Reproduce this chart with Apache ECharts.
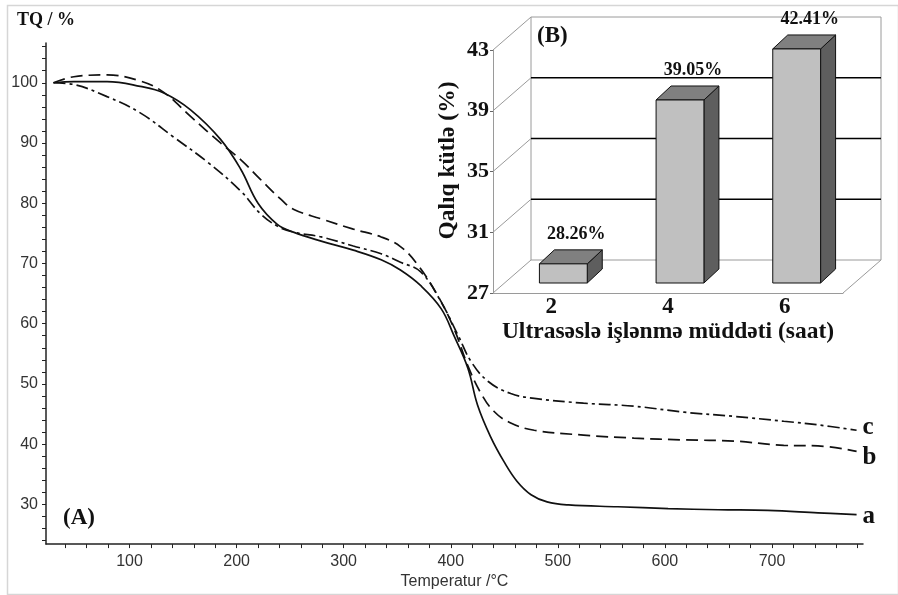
<!DOCTYPE html>
<html>
<head>
<meta charset="utf-8">
<script src="https://cdn.jsdelivr.net/npm/echarts@6.0.0/dist/echarts.min.js"></script>
<style>
  html, body { margin: 0; padding: 0; background: #fff; }
  #chart { width: 898px; height: 595px; }
</style>
</head>
<body>
<div id="chart"></div>
<script>
// (A) TQ curves: temperature (°C) and residual mass (%)
var tempA = [29, 48, 79, 110, 132, 157, 185, 204, 220, 238, 253, 279, 309, 335, 353, 372, 391, 403, 416, 425, 437, 450, 462, 475, 490, 510, 556, 603, 650, 696, 743, 779];
var massA = [100, 100.2, 100.2, 99.4, 98.3, 95.5, 90.6, 85.6, 80, 76.5, 75.2, 73.7, 72.2, 70.6, 68.9, 66.3, 62.5, 58, 52.6, 46.5, 41.3, 37, 33.8, 31.6, 30.4, 29.9, 29.6, 29.3, 29.1, 29.0, 28.6, 28.3];
var tempB = [29, 48, 79, 110, 132, 157, 185, 204, 222, 241, 253, 279, 309, 335, 353, 369, 388, 403, 416, 428, 440, 455, 478, 524, 571, 618, 665, 711, 743, 779];
var massB = [100, 101, 101.3, 100.3, 98.4, 94.4, 90, 87.2, 84, 80.7, 79, 77.4, 75.7, 74.4, 72.8, 69.8, 64.6, 59.2, 53, 48.5, 45.5, 43.6, 42.3, 41.5, 41, 40.7, 40.5, 39.8, 39.7, 38.8];
var tempC = [29, 48, 79, 110, 141, 173, 204, 222, 238, 253, 279, 309, 335, 353, 372, 391, 407, 419, 435, 456, 478, 524, 571, 618, 665, 711, 743, 779];
var massC = [100, 99.7, 97.7, 95, 91, 86.8, 82, 78.3, 76.2, 75.2, 74.4, 72.9, 71.6, 70.2, 68.6, 63.6, 58, 53.7, 50.4, 48.4, 47.6, 46.8, 46.3, 45.3, 44.6, 43.8, 43.2, 42.3];
var curveNames = ['a', 'b', 'c'];

// main axis ticks
var tempTicks = [40, 60, 80, 100, 120, 140, 160, 180, 200, 220, 240, 260, 280, 300, 320, 340, 360, 380, 400, 420, 440, 460, 480, 500, 520, 540, 560, 580, 600, 620, 640, 660, 680, 700, 720, 740, 760, 780];
var tempLabels = [100, 200, 300, 400, 500, 600, 700];
var massTicksMain = [24, 26, 28, 30, 32, 34, 36, 38, 40, 42, 44, 46, 48, 50, 52, 54, 56, 58, 60, 62, 64, 66, 68, 70, 72, 74, 76, 78, 80, 82, 84, 86, 88, 90, 92, 94, 96, 98, 100, 102, 104, 106];
var massLabelsMain = [30, 40, 50, 60, 70, 80, 90, 100];

// (B) inset bars
var hours = ['2', '4', '6'];
var residue = [28.26, 39.05, 42.41];
var residueTicks = [27, 31, 35, 39, 43];

var serif = "'Liberation Serif', 'DejaVu Serif', serif";
var sans = "'Liberation Sans', Arial, sans-serif";
var depth = [38, -33];      // back wall offset of the inset box
var barShift = [12, -10];   // bar plane offset from front axis plane
var barDepth = [15, -14];

function pairs(xs, ys) {
  return xs.map(function (x, i) { return [x, ys[i]]; });
}

function renderWalls(params, api) {
  var cs = params.coordSys;
  var v = api.value(1);
  var y = api.coord([0, v])[1];
  var x0 = cs.x, x1 = cs.x + cs.width;
  var edge = v === residueTicks[0] || v === residueTicks[residueTicks.length - 1];
  var kids = [
    { type: 'line', shape: { x1: x0, y1: y, x2: x0 + depth[0], y2: y + depth[1] }, style: { stroke: '#9a9a9a', lineWidth: 1 } },
    { type: 'line', shape: { x1: x0 + depth[0], y1: y + depth[1], x2: x1 + depth[0], y2: y + depth[1] },
      style: { stroke: edge ? '#9a9a9a' : '#000', lineWidth: edge ? 1 : 1.5 } }
  ];
  if (params.dataIndex === 0) {
    var yTop = api.coord([0, residueTicks[residueTicks.length - 1]])[1];
    kids.push({ type: 'line', shape: { x1: x0 + depth[0], y1: y + depth[1], x2: x0 + depth[0], y2: yTop + depth[1] }, style: { stroke: '#9a9a9a', lineWidth: 1 } });
    kids.push({ type: 'line', shape: { x1: x1 + depth[0], y1: y + depth[1], x2: x1 + depth[0], y2: yTop + depth[1] }, style: { stroke: '#9a9a9a', lineWidth: 1 } });
    kids.push({ type: 'line', shape: { x1: x1, y1: y, x2: x1 + depth[0], y2: y + depth[1] }, style: { stroke: '#9a9a9a', lineWidth: 1 } });
  }
  return { type: 'group', children: kids };
}

function renderBars(params, api) {
  var i = api.value(0), v = api.value(1);
  var top = api.coord([i, v]);
  var base = api.coord([i, residueTicks[0]]);
  var bw = api.size([1, 0])[0] * 0.41;
  var xl = top[0] - bw / 2 + barShift[0], xr = xl + bw;
  var yt = top[1] + barShift[1], yb = base[1] + barShift[1];
  var dx = barDepth[0], dy = barDepth[1];
  var edge = { stroke: '#111', lineWidth: 1 };
  return {
    type: 'group',
    children: [
      { type: 'polygon', shape: { points: [[xr, yt], [xr + dx, yt + dy], [xr + dx, yb + dy], [xr, yb]] },
        style: Object.assign({ fill: '#5e5e5e' }, edge) },
      { type: 'polygon', shape: { points: [[xl, yt], [xr, yt], [xr + dx, yt + dy], [xl + dx, yt + dy]] },
        style: Object.assign({ fill: '#808080' }, edge) },
      { type: 'rect', shape: { x: xl, y: yt, width: bw, height: yb - yt },
        style: Object.assign({ fill: '#c0c0c0' }, edge) },
      { type: 'text', style: { text: v.toFixed(2) + '%', x: (xl + xr) / 2 + 13, y: yt - 30,
        align: 'center', verticalAlign: 'middle', fill: '#111',
        fontSize: 18, fontWeight: 'bold', fontFamily: serif } }
    ]
  };
}

var chart = echarts.init(document.getElementById('chart'), null, { renderer: 'canvas' });

var lineStyles = ['solid', [12, 6], [12, 4, 3, 4]];
var labelNudge = [[0, 2], [0, 6], [0, -3]];
var curves = [pairs(tempA, massA), pairs(tempB, massB), pairs(tempC, massC)];

var option = {
  backgroundColor: '#fff',
  animation: false,
  grid: [
    { left: 46, top: 43, width: 817, height: 504 },
    { left: 493, top: 50, width: 350, height: 243 }
  ],
  xAxis: [
    {
      type: 'value', gridIndex: 0, min: 22, max: 785,
      axisLine: { lineStyle: { color: '#222', width: 1.5 } },
      axisTick: { customValues: tempTicks, length: 4, lineStyle: { color: '#222' } },
      axisLabel: { customValues: tempLabels, fontSize: 16, color: '#333', margin: 9, fontFamily: sans },
      splitLine: { show: false },
      name: 'Temperatur /°C', nameLocation: 'middle', nameGap: 24,
      nameTextStyle: { fontSize: 16, color: '#333', fontFamily: sans }
    },
    {
      type: 'category', gridIndex: 1, data: hours,
      axisLine: { lineStyle: { color: '#9a9a9a', width: 1 } },
      axisTick: { length: 5, lineStyle: { color: '#666' } },
      axisLabel: { fontSize: 23, fontWeight: 'bold', color: '#111', fontFamily: serif, margin: 3 },
      name: 'Ultrasəslə işlənmə müddəti (saat)', nameLocation: 'middle', nameGap: 23,
      nameTextStyle: { fontSize: 23.5, fontWeight: 'bold', color: '#111', fontFamily: serif }
    }
  ],
  yAxis: [
    {
      type: 'value', gridIndex: 0, min: 23.4, max: 106.6,
      axisLine: { show: true, lineStyle: { color: '#222', width: 1.5 } },
      axisTick: { show: true, customValues: massTicksMain, length: 4, lineStyle: { color: '#222' } },
      axisLabel: { customValues: massLabelsMain, fontSize: 16, color: '#333', margin: 8, fontFamily: sans },
      splitLine: { show: false },
      name: 'TQ / %', nameLocation: 'end', nameGap: 14,
      nameTextStyle: { fontSize: 18, fontWeight: 'bold', color: '#111', fontFamily: serif }
    },
    {
      type: 'value', gridIndex: 1, min: 27, max: 43,
      axisLine: { show: true, lineStyle: { color: '#9a9a9a', width: 1 } },
      axisTick: { show: true, customValues: residueTicks, length: 3, lineStyle: { color: '#666' } },
      axisLabel: { customValues: residueTicks, fontSize: 22, fontWeight: 'bold', color: '#111', fontFamily: serif, margin: 4 },
      splitLine: { show: false },
      name: 'Qalıq kütlə (%)', nameLocation: 'middle', nameGap: 33,
      nameTextStyle: { fontSize: 23.5, fontWeight: 'bold', color: '#111', fontFamily: serif, padding: [0, 0, 0, 22] }
    }
  ],
  graphic: [
    { type: 'rect', left: 5, top: 3, shape: { width: 891, height: 589 }, style: { fill: 'none', stroke: '#d6d6d6', lineWidth: 1.5 }, z: -1 },
    { type: 'text', left: 63, top: 507, style: { text: '(A)', fontSize: 23, fontWeight: 'bold', fontFamily: serif, fill: '#111' } },
    { type: 'text', left: 537, top: 25, style: { text: '(B)', fontSize: 23, fontWeight: 'bold', fontFamily: serif, fill: '#111' } }
  ],
  series: curves.map(function (d, k) {
    return {
      type: 'line', name: curveNames[k], xAxisIndex: 0, yAxisIndex: 0,
      data: d, smooth: 0.4, showSymbol: false, symbol: 'none',
      lineStyle: { color: '#111', width: 1.7, type: lineStyles[k] },
      endLabel: { show: true, formatter: curveNames[k], distance: 6, offset: labelNudge[k], color: '#111',
        fontSize: 25, fontWeight: 'bold', fontFamily: serif }
    };
  }).concat([
    {
      type: 'custom', name: 'walls', xAxisIndex: 1, yAxisIndex: 1, clip: false, z: 1,
      data: residueTicks.map(function (v) { return [0, v]; }),
      renderItem: renderWalls
    },
    {
      type: 'custom', name: 'bars', xAxisIndex: 1, yAxisIndex: 1, clip: false, z: 3,
      data: residue.map(function (v, i) { return [i, v]; }),
      renderItem: renderBars
    }
  ])
};

chart.setOption(option);
</script>
</body>
</html>
